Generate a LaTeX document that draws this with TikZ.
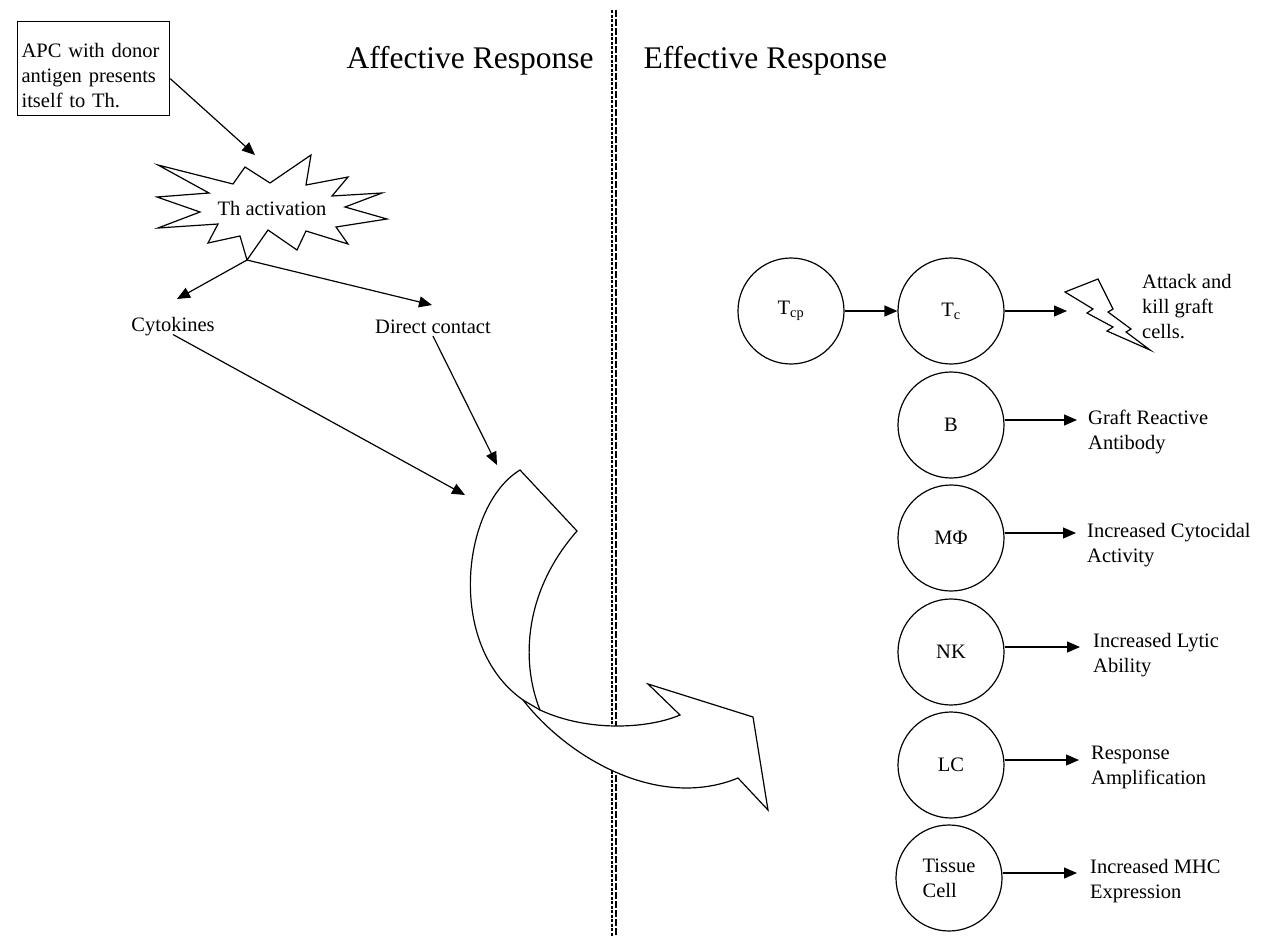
\documentclass[tikz,border=0pt]{standalone}
\usepackage{fontspec}
\setmainfont{Liberation Serif}
\usetikzlibrary{arrows.meta,calc}
\begin{document}
\begin{tikzpicture}[x=1pt,y=-1pt,
  every node/.style={font=\fontsize{20.5}{25}\selectfont},
  ln/.style={line width=1.2pt},
  arr/.style={line width=1.2pt,-{Triangle[length=13pt,width=11pt]}},
  cell/.style={draw,circle,line width=1.2pt,minimum size=106pt,inner sep=0pt},
  lbl/.style={anchor=north west,align=left,inner sep=0pt},
  head/.style={anchor=base west,font=\fontsize{31.5}{38}\selectfont},
  divider/.style={line width=1.1pt}]
\useasboundingbox (0,0) rectangle (1261,937);

% --- split between the two phases ---
\draw[divider,dash pattern=on 3pt off 1.5pt] (612,10) -- (612,937);
\draw[divider,dash pattern=on 7pt off 2pt] (616,10) -- (616,937);

% --- headings ---
\node[head] (aff) at (343,68) {Affective Response};
\node[head] (eff) at (640,68) {Effective Response};

% --- antigen presentation box ---
\node[draw,ln,anchor=north west,align=left,text width=144pt,inner xsep=4pt,inner ysep=5pt]
  (apc) at (17,21) {\rule{0pt}{31pt}APC with donor\\antigen presents\\itself to Th.\rule[-3pt]{0pt}{3pt}};

% --- Th activation starburst ---
\draw[ln,fill=white,line join=miter]
  (158,165) -- (233,184) -- (245,167) -- (270,183) -- (311,155) -- (306,185)
  -- (348,177) -- (332,196) -- (382,193) -- (345,207) -- (387,219) -- (336,227)
  -- (348,244) -- (306,231) -- (297,250) -- (268,230) -- (247,260) -- (240,236)
  -- (208,243) -- (218,224) -- (158,228) -- (200,212) -- (157,197) -- (209,193)
  -- cycle;
\node (th) at (272,208) {Th activation};
\coordinate (thtop) at (255,155);
\coordinate (thbot) at (247,260);

% --- signalling routes ---
\node[inner sep=2pt] (cyto) at (173,327) {Cytokines};
\node[inner sep=2pt] (dc) at (433,327) {Direct contact};
\coordinate (cytoin) at (177,299);
\coordinate (dcin) at (432,305);
\coordinate (curvL) at (465,495);
\coordinate (curvT) at (497,465);

\draw[arr] ([yshift=-10pt]apc.east) -- (thtop);
\draw[arr] (thbot) -- (cytoin);
\draw[arr] (thbot) -- (dcin);
\draw[arr] ([yshift=4pt]cyto.south) -- (curvL);
\draw[arr] (dc.south) -- (curvT);

% --- big curved block arrow crossing the split ---
\draw[ln,fill=white,line join=miter]
  (520,470) .. controls (462,505) and (445,645) .. (523,700)
  .. controls (570,760) and (660,810) .. (738,778)
  -- (768,810) -- (753,717) -- (648,684) -- (680,715)
  .. controls (650,728) and (590,733) .. (540,710)
  .. controls (520,660) and (525,590) .. (577,531)
  -- cycle;
\draw[ln] (540,710) -- (523,700);

% --- effector cells ---
\node[cell] (tcp) at (791,311) {T\textsubscript{cp}};
\node[cell] (tc) at (951,311) {T\textsubscript{c}};
\node[cell] (b) at (951,425) {B};
\node[cell] (mphi) at (951,538) {MΦ};
\node[cell] (nk) at (951,652) {NK};
\node[cell] (lc) at (951,765) {LC};
\node[cell,align=left] (tis) at (949,878) {Tissue\\Cell};

% --- lightning bolt ---
\draw[ln,fill=white,line join=miter]
  (1065,292) -- (1098,279) -- (1113,309) -- (1108,312) -- (1131,329) -- (1126,332)
  -- (1150,350) -- (1107,331) -- (1113,327) -- (1087,313) -- (1093,309) -- cycle;
\coordinate (bolt) at (1067,311);

% --- outcomes ---
\node[lbl] (lbolt) at (1142,274) {Attack and\\kill graft\\cells.};
\node[lbl] (lb) at (1088,410) {Graft Reactive\\Antibody};
\node[lbl] (lm) at (1087,523) {Increased Cytocidal\\Activity};
\node[lbl] (lnk) at (1093,633) {Increased Lytic\\Ability};
\node[lbl] (llc) at (1091,746) {Response\\Amplification};
\node[lbl] (ltis) at (1090,859) {Increased MHC\\Expression};

\draw[arr] (tcp) -- (tc);
\draw[arr] (tc) -- (bolt);

\coordinate (ob) at ([yshift=5pt]b.east);
\coordinate (om) at ([yshift=5pt]mphi.east);
\coordinate (onk) at ([yshift=5pt]nk.east);
\coordinate (olc) at ([yshift=5pt]lc.east);
\coordinate (otis) at ([yshift=5pt]tis.east);
\draw[arr,shorten >=11pt] (ob) -- (ob -| lb.west);
\draw[arr,shorten >=11pt] (om) -- (om -| lm.west);
\draw[arr,shorten >=13pt] (onk) -- (onk -| lnk.west);
\draw[arr,shorten >=12pt] (olc) -- (olc -| llc.west);
\draw[arr,shorten >=13pt] (otis) -- (otis -| ltis.west);
\end{tikzpicture}
\end{document}
